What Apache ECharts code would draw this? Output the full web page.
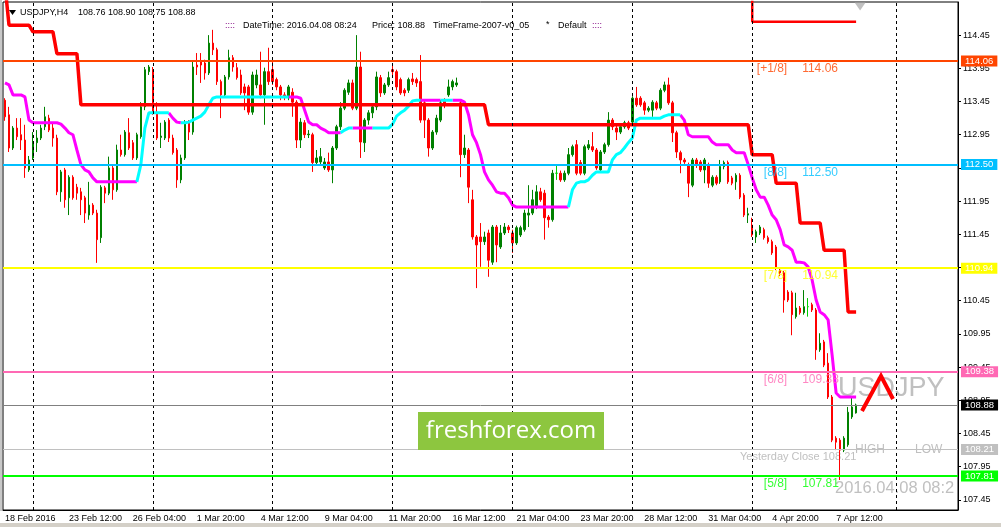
<!DOCTYPE html>
<html>
<head>
<meta charset="utf-8">
<title>USDJPY,H4</title>
<script src="https://cdn.jsdelivr.net/npm/echarts@6/dist/echarts.min.js"></script>
<style>
html, body { margin: 0; padding: 0; background: #fff; }
#chart { width: 1001px; height: 527px; }
</style>
</head>
<body>
<div id="chart"></div>
<script>
// H4 bars, 18 Feb 2016 20:00 .. 8 Apr 2016 08:00
const opens = [
    113.47,113.25,112.75,113.05,112.95,112.87,112.42,112.60,112.83,112.90,
    113.07,113.20,113.05,112.90,112.09,112.42,112.00,112.31,112.16,112.09,
    112.00,111.74,111.89,111.77,111.40,112.15,112.07,112.45,112.12,112.72,
    112.65,112.98,112.83,112.60,112.92,113.37,113.90,113.93,113.28,112.91,
    112.90,113.17,112.90,112.72,112.27,112.60,113.13,112.99,114.00,114.05,
    114.03,113.88,114.33,114.23,113.75,113.55,113.82,114.11,113.96,113.85,
    113.67,113.67,113.29,113.70,113.70,113.55,113.90,113.93,113.78,113.67,
    113.55,113.52,113.59,113.44,112.87,113.13,112.95,112.95,112.53,112.54,
    112.45,112.54,112.42,112.75,113.07,113.35,113.59,113.73,113.35,113.97,
    112.83,113.17,113.28,113.37,113.81,113.58,113.70,113.93,113.90,113.78,
    113.62,113.62,113.79,113.78,113.75,113.43,113.17,112.75,112.99,113.17,
    113.47,113.55,113.67,113.70,113.43,112.65,112.72,111.97,111.41,111.41,
    111.34,111.47,111.03,111.56,111.26,111.47,111.56,111.47,111.32,111.44,
    111.52,111.74,111.77,111.86,112.09,112.07,111.71,111.67,112.37,112.37,
    112.27,112.37,112.65,112.80,112.53,112.37,112.75,112.77,112.72,112.42,
    112.69,112.80,113.17,113.05,112.99,113.07,113.13,113.14,113.50,113.50,
    113.43,113.32,113.32,113.43,113.35,113.62,113.70,113.43,112.98,112.68,
    112.57,112.50,112.19,112.57,112.54,112.42,112.50,112.19,112.31,112.24,
    112.47,112.53,112.30,112.24,112.34,112.04,111.74,111.59,111.41,111.47,
    111.52,111.40,111.34,111.26,110.91,110.87,110.58,110.57,110.21,110.34,
    110.27,110.36,110.39,110.31,109.71,109.83,109.51,109.00,108.38,108.35,
    108.20,108.28,108.70,108.76
];
const highs = [
    113.50,113.37,113.08,113.20,113.20,113.10,112.63,112.99,113.02,113.10,
    113.37,113.25,113.14,112.95,112.42,112.45,112.34,112.34,112.21,112.15,
    112.03,112.24,111.92,111.82,112.19,112.18,112.62,112.48,112.80,112.95,
    113.02,113.20,112.87,112.98,113.44,113.97,114.00,113.97,113.44,113.13,
    113.17,113.20,112.95,112.75,112.65,113.17,113.17,114.05,114.18,114.18,
    114.08,114.45,114.53,114.26,113.78,113.85,114.23,114.15,114.03,113.93,
    113.72,113.70,113.90,113.93,114.20,113.96,114.26,114.08,113.81,113.70,
    113.59,113.70,113.65,113.47,113.20,113.17,113.02,112.98,112.72,112.75,
    112.60,112.68,112.78,113.10,113.44,113.65,113.78,113.78,114.45,114.20,
    113.20,113.32,113.40,113.90,113.85,113.73,113.90,114.03,113.93,113.81,
    113.65,113.81,113.88,113.81,114.15,113.47,113.20,113.02,113.25,113.47,
    113.50,113.78,113.78,113.81,113.47,112.95,112.75,112.12,111.44,111.62,
    111.49,111.52,111.59,111.59,111.59,111.62,111.59,111.52,111.58,111.58,
    111.82,112.19,112.12,112.19,112.15,112.12,111.74,112.42,112.50,112.41,
    112.41,112.75,112.80,112.87,112.57,112.80,112.87,112.99,112.75,112.72,
    112.83,113.29,113.20,113.10,113.10,113.16,113.16,113.53,113.67,113.53,
    113.46,113.38,113.47,113.46,113.65,113.75,113.81,113.46,113.01,112.71,
    112.60,112.53,112.60,112.60,112.57,112.60,112.53,112.34,112.34,112.57,
    112.56,112.56,112.33,112.37,112.37,112.07,111.85,111.70,111.52,111.59,
    111.55,111.43,111.37,111.29,110.94,110.90,110.61,110.60,110.57,110.37,
    110.61,110.49,110.42,110.34,109.96,109.86,109.66,109.03,108.41,108.38,
    108.41,108.85,109.00,108.90
];
const lows = [
    113.16,112.69,112.72,112.87,112.72,112.30,112.39,112.57,112.69,112.87,
    113.02,112.99,112.77,112.04,111.94,111.85,111.74,111.97,111.97,111.74,
    111.62,111.67,111.74,111.02,111.32,111.92,112.04,111.97,112.09,112.62,
    112.62,112.72,112.57,112.57,112.89,113.32,113.85,113.25,112.87,112.75,
    112.87,112.84,112.65,112.15,112.22,112.57,112.87,112.95,113.85,113.73,
    113.78,113.85,114.15,113.70,113.20,113.52,113.78,113.90,113.78,113.55,
    113.32,113.25,113.25,113.65,113.50,113.10,113.70,113.70,113.62,113.47,
    113.47,113.47,113.22,112.75,112.75,112.90,112.90,112.39,112.50,112.50,
    112.42,112.39,112.22,112.72,113.02,113.32,113.55,113.32,113.32,112.60,
    112.69,113.10,113.20,113.32,113.52,113.55,113.67,113.85,113.62,113.55,
    113.53,113.58,113.70,113.67,113.13,112.90,112.62,112.72,112.95,113.14,
    113.35,113.52,113.62,113.67,112.31,112.60,111.92,111.37,110.64,110.96,
    111.29,110.81,110.99,111.03,111.23,111.44,111.47,111.17,111.29,111.41,
    111.49,111.56,111.74,111.83,111.94,111.37,111.55,111.64,112.27,112.24,
    112.24,112.34,112.62,112.34,112.34,112.34,112.72,112.69,112.42,112.39,
    112.66,112.77,113.02,112.87,112.96,113.04,113.02,113.11,113.37,113.37,
    113.25,113.29,113.22,113.32,113.32,113.59,113.40,112.84,112.60,112.37,
    112.51,112.01,112.16,112.45,112.39,112.22,112.15,112.16,112.19,112.21,
    112.43,112.21,112.19,112.12,111.98,111.71,111.62,111.41,111.32,111.44,
    111.37,111.31,111.14,110.91,110.82,110.27,110.43,109.93,110.18,110.24,
    110.24,110.21,110.28,109.56,109.68,109.45,108.97,108.32,108.20,107.75,
    108.17,108.25,108.67,108.75
];
const closes = [
    113.22,112.75,113.05,112.92,112.87,112.45,112.57,112.84,112.90,113.05,
    113.22,113.02,112.90,112.09,112.39,111.97,112.31,112.00,112.07,111.97,
    111.77,111.89,111.77,111.37,112.16,112.07,112.45,112.12,112.72,112.65,
    112.99,112.75,112.60,112.95,113.37,113.93,113.97,113.28,112.90,112.93,
    113.14,112.90,112.68,112.27,112.60,113.13,112.99,113.97,113.97,114.00,
    113.88,114.33,114.23,113.75,113.55,113.82,114.11,113.97,113.81,113.58,
    113.58,113.29,113.85,113.85,113.55,113.90,113.75,113.75,113.67,113.55,
    113.52,113.67,113.44,112.87,113.14,112.95,112.96,112.53,112.60,112.62,
    112.54,112.42,112.75,113.07,113.35,113.62,113.73,113.35,113.97,112.84,
    113.17,113.28,113.37,113.82,113.58,113.70,113.81,113.90,113.67,113.58,
    113.58,113.78,113.75,113.73,113.17,113.17,112.75,112.99,113.20,113.43,
    113.40,113.67,113.75,113.73,112.65,112.75,112.16,111.41,111.29,111.34,
    111.41,111.06,111.56,111.29,111.47,111.56,111.52,111.32,111.55,111.55,
    111.77,111.77,111.97,112.09,111.97,111.70,111.67,112.37,112.37,112.27,
    112.37,112.65,112.77,112.37,112.37,112.77,112.80,112.72,112.45,112.69,
    112.80,113.17,113.07,112.99,113.07,113.13,113.05,113.50,113.40,113.40,
    113.32,113.35,113.44,113.35,113.62,113.70,113.43,112.98,112.69,112.57,
    112.54,112.22,112.57,112.50,112.42,112.57,112.22,112.31,112.22,112.47,
    112.53,112.24,112.22,112.34,112.01,111.74,111.76,111.44,111.49,111.56,
    111.40,111.34,111.17,110.94,110.87,110.46,110.46,110.24,110.34,110.27,
    110.36,110.36,110.31,109.71,109.81,109.48,109.00,108.35,108.32,108.20,
    108.38,108.77,108.85,108.88
];

// trailing line (magenta when falling, aqua when rising)
const trail = [
    113.73,113.70,113.55,113.55,113.55,113.52,113.17,113.13,113.13,113.13,
    113.13,113.13,113.13,113.13,113.11,113.05,112.98,112.95,112.72,112.50,
    112.42,112.39,112.30,112.24,112.24,112.24,112.24,112.24,112.24,112.24,
    112.24,112.24,112.24,112.24,112.50,113.05,113.28,113.28,113.28,113.28,
    113.28,113.28,113.20,113.14,113.13,113.13,113.14,113.17,113.20,113.23,
    113.29,113.40,113.50,113.52,113.52,113.52,113.52,113.52,113.52,113.52,
    113.52,113.52,113.52,113.52,113.52,113.52,113.52,113.52,113.52,113.52,
    113.52,113.52,113.52,113.52,113.50,113.32,113.14,113.10,113.10,113.05,
    113.02,112.98,112.98,112.98,112.98,113.02,113.05,113.05,113.05,113.05,
    113.05,113.05,113.05,113.05,113.05,113.05,113.05,113.11,113.23,113.28,
    113.32,113.38,113.46,113.47,113.47,113.47,113.47,113.47,113.47,113.47,
    113.47,113.47,113.47,113.47,113.47,113.44,113.25,112.95,112.83,112.65,
    112.39,112.27,112.19,112.09,112.07,112.07,112.00,111.89,111.86,111.86,
    111.86,111.86,111.86,111.86,111.86,111.86,111.86,111.86,111.86,111.86,
    111.86,111.86,112.12,112.22,112.24,112.24,112.27,112.34,112.39,112.39,
    112.39,112.39,112.57,112.65,112.68,112.75,112.83,112.90,113.17,113.20,
    113.20,113.20,113.20,113.20,113.20,113.23,113.25,113.25,113.25,113.25,
    113.17,112.95,112.92,112.92,112.92,112.92,112.92,112.84,112.80,112.80,
    112.80,112.80,112.72,112.68,112.68,112.68,112.50,112.30,112.12,112.01,
    112.01,111.89,111.74,111.67,111.52,111.29,111.26,111.21,111.03,111.03,
    111.02,110.96,110.76,110.46,110.28,110.24,110.16,109.63,109.06,109.00,
    109.00,109.00,109.00,109.00
];
const cyanRanges = [[33, 41], [44, 71], [84, 87], [92, 104], [109, 112], [141, 169]];

// red stepped stop line
const stopLevels = [115.2, 114.60, 114.50, 114.17, 113.40, 113.10, 112.65, 112.22, 111.62, 111.21, 110.28];
const stopStarts = [0, 1, 7, 13, 19, 121, 187, 193, 199, 205, 211];
const upperStop = [[187, 115.2], [187, 114.65], [213, 114.65]];

// murrey levels
const levelPrices = [114.06, 112.50, 110.94, 109.38, 107.81];
const levelTags = ['[+1/8]', '[8/8]', '[7/8]', '[6/8]', '[5/8]'];
const levelColors = ['#ff4500', '#00bfff', '#ffff00', '#ff69b4', '#00ff00'];
const bidPrice = 108.88;
const yesterdayClose = 108.21;

const priceTicks = [107.45, 107.95, 108.45, 108.95, 109.45, 109.95, 110.45, 110.95,
    111.45, 111.95, 112.45, 112.95, 113.45, 113.95, 114.45];
const tickLabels = ['18 Feb 2016', '23 Feb 12:00', '26 Feb 04:00', '1 Mar 20:00', '4 Mar 12:00',
    '9 Mar 04:00', '11 Mar 20:00', '16 Mar 12:00', '21 Mar 04:00', '23 Mar 20:00',
    '28 Mar 12:00', '31 Mar 04:00', '4 Apr 20:00', '7 Apr 12:00'];
const tickEvery = 16;
const weekStarts = [7, 37, 67, 97, 127, 157, 187, 223];
const slotCount = 239;

/**
 * 4시간봉 시간축 (주말 제외)
 */
function buildCategories() {
    const cats = [];
    let t = Date.UTC(2016, 1, 18, 20);
    while (cats.length < slotCount) {
        const d = new Date(t);
        const day = d.getUTCDay();
        if (day !== 0 && day !== 6) {
            cats.push(d.toISOString().slice(0, 16).replace('T', ' '));
        }
        t += 4 * 3600 * 1000;
    }
    return cats;
}

function inCyan(i) {
    return cyanRanges.some(r => i >= r[0] && i <= r[1]);
}
function insideCyan(i) {
    return cyanRanges.some(r => i > r[0] && i < r[1]);
}

const categories = buildCategories();
const candles = opens.map((o, i) => [o, closes[i], lows[i], highs[i]]);
const magentaLine = trail.map((v, i) => insideCyan(i) ? null : v);
const cyanLine = trail.map((v, i) => inCyan(i) ? v : null);
const stopLine = opens.map((_, i) => {
    let k = 0;
    while (k + 1 < stopStarts.length && stopStarts[k + 1] <= i) k++;
    return stopLevels[k];
});

const FONT = '"Liberation Sans", Arial, sans-serif';

function boxLabel(bg) {
    return {
        show: true, position: 'end', distance: 3, formatter: p => p.value.toFixed(2),
        color: '#fff', backgroundColor: bg, padding: [1, 4, 0, 4],
        fontSize: 9.5, fontFamily: FONT, lineHeight: 10
    };
}

function silverText(text, x, y, size, extra) {
    return {
        type: 'text', z: 1, silent: true,
        style: Object.assign({
            text: text, x: x, y: y, fill: '#c0c0c0',
            font: size + 'px ' + FONT, verticalAlign: 'middle', textVerticalAlign: 'middle'
        }, extra || {})
    };
}
function blackText(text, x, y, color) {
    return {
        type: 'text', z: 10, silent: true,
        style: {
            text: text, x: x, y: y, fill: color || '#000',
            font: '9px ' + FONT, verticalAlign: 'middle', textVerticalAlign: 'middle'
        }
    };
}

const chart = echarts.init(document.getElementById('chart'));
const option = {
    animation: false,
    backgroundColor: '#fff',
    grid: { left: 3, top: 2, width: 955, height: 508, show: true, borderColor: '#000', borderWidth: 1 },
    xAxis: {
        type: 'category',
        data: categories,
        boundaryGap: true,
        axisLine: { lineStyle: { color: '#000' } },
        axisTick: {
            alignWithLabel: true, inside: true, length: 4, lineStyle: { color: '#000' },
            interval: i => i % tickEvery === 0 && i / tickEvery < tickLabels.length
        },
        axisLabel: {
            interval: i => i % tickEvery === 0 && i / tickEvery < tickLabels.length,
            formatter: (v, i) => tickLabels[i / tickEvery],
            align: 'left', margin: 4, color: '#000', fontSize: 9, fontFamily: FONT
        },
        splitLine: { show: false }
    },
    yAxis: {
        type: 'value',
        position: 'right',
        min: 107.298,
        max: 114.949,
        axisLine: { show: true, lineStyle: { color: '#000' } },
        axisTick: { show: true, length: 3, customValues: priceTicks, lineStyle: { color: '#000' } },
        axisLabel: {
            customValues: priceTicks, formatter: v => v.toFixed(2),
            margin: 5, color: '#000', fontSize: 9, fontFamily: FONT
        },
        splitLine: { show: false }
    },
    series: [
        {
            name: 'USDJPY,H4',
            type: 'candlestick',
            data: candles,
            barWidth: 2,
            z: 2,
            itemStyle: {
                color: '#008000', color0: '#ff0000',
                borderColor: '#008000', borderColor0: '#ff0000',
                borderColorDoji: '#00d000', borderWidth: 1
            }
        },
        {
            type: 'line', data: magentaLine, z: 3, symbol: 'none', connectNulls: false,
            lineStyle: { color: '#ff00ff', width: 3 }
        },
        {
            type: 'line', data: cyanLine, z: 3, symbol: 'none', connectNulls: false,
            lineStyle: { color: '#00ffff', width: 3 }
        },
        {
            type: 'line', data: stopLine, z: 4, symbol: 'none',
            lineStyle: { color: '#ff0000', width: 3.5 }
        },
        {
            type: 'line', data: upperStop, z: 4, symbol: 'none',
            lineStyle: { color: '#ff0000', width: 2.5 }
        },
        {
            type: 'scatter', z: 4, symbol: 'triangle', symbolRotate: 180, symbolSize: [11, 8],
            data: [[214, 114.88]], itemStyle: { color: '#b0b0b0' }
        },
        {
            // levels, week separators and price boxes
            type: 'line', data: [], z: 5,
            markLine: {
                symbol: 'none', silent: true,
                data: [
                    ...weekStarts.map(i => ({
                        xAxis: categories[i], label: { show: false },
                        lineStyle: { color: '#000', width: 1, type: [3, 3] }
                    })),
                    ...levelPrices.map((p, k) => ({
                        yAxis: p,
                        lineStyle: { color: levelColors[k], width: 2, type: 'solid' },
                        label: boxLabel(levelColors[k])
                    })),
                    { yAxis: bidPrice, lineStyle: { color: '#808080', width: 1, type: 'solid' }, label: boxLabel('#000') },
                    { yAxis: yesterdayClose, lineStyle: { color: '#c0c0c0', width: 1, type: 'solid' }, label: boxLabel('#c0c0c0') }
                ]
            }
        },
        {
            type: 'scatter', z: 6, symbolSize: 0, silent: true,
            data: levelPrices.map((p, k) => ({
                value: [categories[196], p],
                label: { color: levelColors[k] }
            })),
            label: {
                show: true, position: 'left', distance: 1, offset: [0, 8],
                formatter: p => levelTags[p.dataIndex], fontSize: 12, fontFamily: FONT
            }
        },
        {
            type: 'scatter', z: 6, symbolSize: 0, silent: true,
            data: levelPrices.map((p, k) => ({
                value: [categories[200], p],
                label: { color: levelColors[k] }
            })),
            label: {
                show: true, position: 'right', distance: 0, offset: [-2, 8],
                formatter: p => p.value[1].toFixed(2), fontSize: 12, fontFamily: FONT
            }
        }
    ],
    graphic: [
        { type: 'rect', silent: true, z: 0, shape: { x: 0, y: 0, width: 2, height: 511 }, style: { fill: '#c8c8c8' } },
        { type: 'rect', silent: true, z: 0, shape: { x: 0, y: 523, width: 1001, height: 4 }, style: { fill: '#d4d0c8' } },
        { type: 'polygon', silent: true, z: 10, shape: { points: [[9, 10], [16, 10], [12.5, 15]] }, style: { fill: '#000' } },
        blackText('USDJPY,H4', 20, 13),
        blackText('108.76 108.90 108.75 108.88', 78, 13),
        blackText('::::', 225, 26, '#800080'),
        blackText('DateTime: 2016.04.08 08:24', 243, 26),
        blackText('Price: 108.88', 372, 26),
        blackText('TimeFrame-2007-v0_05', 433, 26),
        blackText('*', 546, 25),
        blackText('Default', 558, 26),
        blackText('::::', 592, 26, '#800080'),
        silverText('USDJPY', 838, 389, 27),
        {
            type: 'polyline', silent: true, z: 8,
            shape: { points: [[862, 411], [881, 376], [893, 399]] },
            style: { stroke: '#ff0000', lineWidth: 4, fill: null }
        },
        silverText('HIGH', 855, 450, 12),
        silverText('LOW', 915, 450, 12),
        silverText('Yesterday Close 108.21', 740, 457, 11),
        silverText('2016.04.08 08:24', 835, 488, 16.5, { width: 126, overflow: 'truncate', ellipsis: '' }),
        { type: 'rect', silent: true, z: 7, shape: { x: 418, y: 412, width: 186, height: 38 }, style: { fill: '#8dc63f' } },
        {
            type: 'text', silent: true, z: 8,
            style: {
                text: 'freshforex.com', x: 511, y: 431, fill: '#fff',
                font: '24px "Open Sans", sans-serif', align: 'center', textAlign: 'center',
                verticalAlign: 'middle', textVerticalAlign: 'middle'
            }
        }
    ]
};
chart.setOption(option);
</script>
</body>
</html>
